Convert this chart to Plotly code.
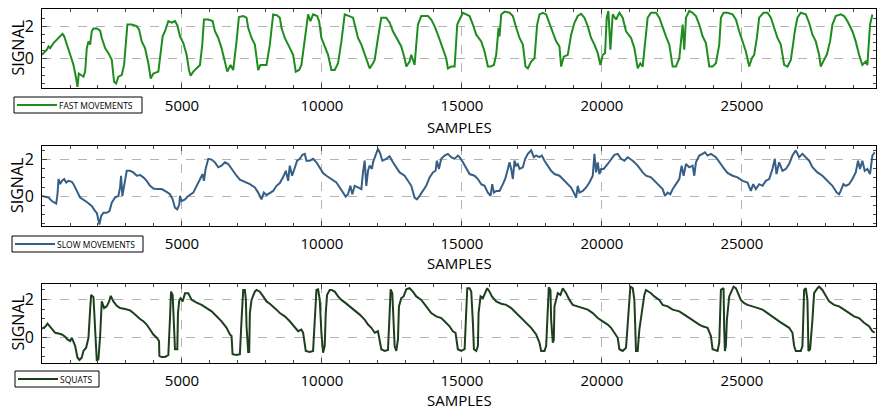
import plotly.graph_objects as go

# ---- FAST MOVEMENTS ----
fast_samples = [0, 174, 233, 293, 411, 530, 649, 732, 792, 887, 1006, 1125, 1220, 1267, 1315, 1386, 1481, 1541,
                1600, 1660, 1719, 1778, 1838, 1957, 2076, 2135, 2254, 2373, 2492, 2575, 2646, 2729, 2848, 2932,
                3003, 3050, 3205, 3383, 3467, 3562, 3680, 3799, 3883, 3978, 4156, 4215, 4310, 4394, 4512, 4631,
                4750, 4833, 4929, 5047, 5166, 5250, 5309, 5404, 5523, 5642, 5725, 5784, 5939, 6093, 6177, 6296,
                6414, 6533, 6617, 6735, 6830, 6949, 7033, 7187, 7306, 7365, 7484, 7603, 7722, 7805, 7900, 8019,
                8138, 8257, 8400, 8495, 8554, 8673, 8792, 8970, 9065, 9184, 9267, 9386, 9505, 9588, 9683, 9826,
                9897, 9980, 10099, 10218, 10337, 10456, 10575, 10694, 10813, 10991, 11110, 11169, 11288, 11407,
                11585, 11704, 11823, 11883, 12001, 12120, 12298, 12417, 12536, 12715, 12833, 12952, 13012, 13131,
                13190, 13309, 13428, 13547, 13784, 13903, 14022, 14141, 14319, 14438, 14498, 14616, 14738,
                14833, 14916, 15035, 15154, 15273, 15392, 15511, 15689, 15808, 15927, 16022, 16141, 16224, 16307,
                16343, 16403, 16522, 16700, 16819, 16938, 17057, 17176, 17271, 17354, 17473, 17592, 17687, 17770,
                17889, 18008, 18127, 18246, 18364, 18483, 18543, 18638, 18781, 18900, 19018, 19137, 19256, 19375,
                19494, 19613, 19732, 19851, 19946, 20029, 20112, 20172, 20231, 20303, 20386, 20505, 20624, 20742,
                20861, 21040, 21159, 21278, 21373, 21456, 21575, 21634, 21753, 21931, 22050, 22169, 22288, 22407,
                22526, 22645, 22764, 22883, 22942, 23002, 23120, 23239, 23358, 23477, 23596, 23715, 23834, 23953,
                24072, 24191, 24250, 24345, 24488, 24666, 24785, 24904, 25023, 25142, 25261, 25356, 25439, 25534,
                25617, 25772, 25915, 26034, 26152, 26271, 26390, 26509, 26628, 26747, 26842, 26890, 26985, 27104,
                27282, 27401, 27520, 27639, 27758, 27817, 27936, 28031, 28150, 28233, 28352, 28530, 28649, 28768,
                28947, 29066, 29185, 29303, 29422, 29482, 29577, 29661]
fast_signal = [0.25, 0.56, 0.76, 0.66, 0.97, 1.18, 1.38, 1.53, 1.38, 0.87, 0.35, -0.37, -1.20, -1.71, -0.89, -0.99,
               -1.09, -0.78, 0.66, 1.07, 0.87, 1.69, 1.86, 1.86, 1.73, 1.28, 0.66, 0.35, -0.06, -1.40, -1.51, -1.09,
               -0.99, -0.37, 1.07, 2.10, 2.10, 2.00, 1.79, 1.07, 0.66, -0.27, -1.20, -0.89, -0.78, 0.04, 1.38, 1.69,
               2.31, 2.21, 2.31, 2.06, 1.38, 0.97, 0.25, -0.68, -1.03, -0.78, -0.58, -0.37, 0.87, 2.41, 2.41, 2.31,
               1.69, 1.28, 0.66, -0.16, -0.78, -0.37, -0.68, 1.07, 2.56, 2.62, 2.52, 1.90, 1.28, 0.87, -0.68, -0.37,
               -0.37, -0.37, 0.87, 2.72, 2.66, 2.52, 1.90, 1.28, 0.87, 0.25, -0.78, -0.68, -0.37, 1.07, 2.72, 2.31,
               2.72, 2.62, 2.31, 1.28, 0.76, 0.25, -0.68, -0.68, -0.27, 1.07, 2.72, 2.62, 2.52, 2.10, 1.28, 0.87,
               0.04, -0.58, -0.27, -0.06, 1.28, 2.52, 2.52, 2.21, 1.69, 1.07, 0.76, 0.04, -0.47, -0.16, 0.25, -0.37,
               2.10, 2.62, 2.62, 2.41, 2.00, 1.48, 0.66, 0.04, -0.58, -0.47, -0.47,
               2.10, 2.41, 2.82, 2.72, 2.62, 2.10, 1.48, 1.07, 0.45, -0.47, -0.47, -0.37, 0.25, 1.90,
               1.38, 2.72, 2.89, 2.82, 2.62, 1.90, 1.28, 0.87, -0.47, -0.58, -0.16, 0.04, 2.10, 2.72,
               2.82, 2.72, 2.21, 1.69, 1.07, 0.76, -0.47, 0.14, 0.25, 1.48, 2.21, 2.62, 2.76, 2.52,
               2.00, 1.28, 0.87, 0.35, -0.37, 0.25, 0.35, 2.52, 2.93, 0.56, 2.72, 2.41, 2.82, 2.52,
               1.69, 1.28, 0.66, -0.58, -0.27, -0.47, 1.69, 2.52, 2.82, 2.82, 2.52, 1.90, 1.38, 0.87,
               -0.47, -0.47, 0.04, 2.10, 0.56, 2.52, 2.93, 2.82, 2.62, 2.10, 1.38, 0.97, -0.47, -0.47,
               -0.27, 0.87, 2.52, 2.82, 2.82, 2.72, 2.41, 1.69, 1.07, 0.45, -0.47, 0.04, 0.25, 1.28,
               2.52, 2.82, 2.82, 2.52, 1.90, 1.28, 0.87, -0.37, -0.47, -0.06, 1.07, 1.69, 2.52, 2.82,
               2.72, 2.21, 1.48, 1.07, 0.25, -0.47, -0.06, 0.25, 1.07, 2.10, 2.62, 2.72, 2.62, 2.31,
               1.69, 1.07, 0.25, -0.37, -0.16, -0.37, 2.10, 2.72]

# ---- SLOW MOVEMENTS ----
slow_samples = [0, 233, 352, 435, 507, 554, 590, 649, 709, 792, 863, 946, 1065, 1125, 1243, 1362, 1600, 1778, 1897,
                1957, 2052, 2111, 2195, 2313, 2409, 2492, 2610, 2729, 2789, 2824, 2872, 2908, 2967, 3027, 3145,
                3264, 3383, 3502, 3621, 3740, 3859, 3978, 4096, 4275, 4453, 4572, 4667, 4750, 4833, 4905, 4929,
                4988, 5107, 5226, 5404, 5523, 5642, 5737, 5784, 5844, 5939, 6058, 6177, 6296, 6414, 6533, 6652,
                6771, 6949, 7068, 7247, 7425, 7603, 7722, 7841, 7924, 8019, 8138, 8257, 8376, 8495, 8637, 8709,
                8792, 8851, 8934, 9030, 9113, 9208, 9303, 9386, 9446, 9565, 9683, 9802, 9921, 10040, 10159, 10337,
                10515, 10634, 10753, 10848, 10931, 11015, 11086, 11169, 11288, 11407, 11466, 11526, 11585, 11645,
                11704, 11787, 11823, 11918, 12001, 12084, 12156, 12298, 12417, 12536, 12655, 12774, 12952, 13071,
                13190, 13309, 13392, 13487, 13606, 13725, 13844, 13963, 14058, 14105, 14177, 14260, 14379, 14498,
                14616, 14735, 14854, 14916, 15035, 15154, 15273, 15451, 15570, 15689, 15808, 15927, 16022, 16082,
                16141, 16224, 16343, 16462, 16545, 16640, 16700, 16759, 16819, 16878, 16938, 16997, 17057, 17176,
                17259, 17354, 17473, 17568, 17651, 17770, 17853, 17948, 18067, 18186, 18305, 18483, 18602, 18781,
                18900, 18995, 19078, 19137, 19197, 19316, 19435, 19554, 19673, 19732, 19791, 19851, 19910, 19970,
                20065, 20207, 20326, 20445, 20564, 20683, 20802, 20921, 21099, 21278, 21456, 21575, 21753, 21872,
                22050, 22169, 22252, 22348, 22443, 22526, 22645, 22764, 22847, 22918, 23002, 23120, 23239, 23299,
                23358, 23477, 23596, 23679, 23774, 23893, 24072, 24191, 24369, 24488, 24666, 24845, 25023, 25201,
                25320, 25404, 25499, 25617, 25736, 25855, 25974, 26093, 26176, 26236, 26331, 26450, 26569, 26687,
                26806, 26925, 27044, 27163, 27282, 27401, 27520, 27698, 27876, 28055, 28233, 28388, 28471, 28530,
                28626, 28709, 28828, 28947, 29066, 29149, 29220, 29303, 29387, 29482, 29577, 29661, 29744]
slow_signal = [0.02, -0.07, -0.26, -0.35, -0.40, 0.11, 0.94, 0.66, 0.84, 0.94, 0.75, 0.84, 0.79, 0.66, 0.29, -0.07,
               -0.31, -0.53, -0.81, -0.90, -1.54, -1.08, -0.90, -0.90, -0.81, -0.35, -0.07, 0.02, 0.48, 1.12, 0.02,
               0.39, 0.94, 1.39, 1.39, 1.30, 1.12, 1.16, 1.03, 0.84, 0.57, 0.42, 0.39, 0.39, 0.24, 0.11, -0.17,
               -0.62, -0.72, -0.44, 0.02, -0.26, -0.17, 0.02, 0.20, 0.57, 0.94, 1.21, 0.84, 1.49, 2.04, 2.00, 1.85,
               1.58, 1.67, 1.85, 1.76, 1.49, 1.12, 0.90, 0.79, 0.66, 0.48, 0.20, -0.17, 0.20, 0.06, 0.20, 0.29,
               0.57, 0.72, 1.12, 1.39, 0.84, 1.67, 1.12, 1.58, 1.94, 2.04, 2.26, 2.31, 1.94, 1.94, 2.04, 1.85,
               1.58, 1.27, 1.12, 0.94, 0.75, 0.48, 0.20, -0.02, 0.11, 0.57, 0.11, 0.57, 0.48, 0.39, 1.30, 1.94,
               0.57, 1.39, 1.67, 1.49, 1.85, 2.22, 2.59, 2.31, 1.94, 2.04, 2.18, 1.85, 1.58, 1.30, 1.12, 0.84,
               0.57, -0.07, -0.17, 0.02, 0.29, 0.57, 1.03, 1.30, 1.39, 1.94, 1.49, 2.04, 2.22, 2.31, 2.13, 2.04,
               2.22, 2.13, 1.85, 1.49, 1.21, 1.12, 0.94, 0.66, 0.57, 0.20, 0.02, 0.66, 0.20, 0.29, 0.29, 0.66,
               0.94, 1.49, 1.85, 1.49, 0.94, 1.94, 1.67, 1.76, 1.49, 1.58, 2.04, 2.31, 2.50, 2.13, 2.22, 2.13,
               2.22, 1.94, 1.67, 1.39, 1.21, 1.12, 0.94, 0.66, 0.48, 0.20, -0.07, 0.57, 0.20, 0.29, 0.48, 0.75,
               1.12, 2.31, 1.30, 1.85, 1.21, 1.49, 1.49, 1.76, 2.04, 2.26, 2.31, 2.04, 1.94, 2.13, 1.94, 1.67,
               1.30, 1.12, 1.03, 0.84, 0.57, 0.39, 0.02, 0.20, 0.11, 0.39, 0.66, 0.94, 1.67, 1.12, 1.76, 1.58,
               1.67, 1.12, 1.85, 2.22, 2.31, 2.40, 2.22, 2.31, 2.13, 1.85, 1.49, 1.27, 1.12, 1.03, 0.84, 0.75,
               0.29, 0.66, 0.39, 0.66, 0.57, 0.84, 0.94, 1.49, 2.04, 1.21, 1.85, 1.39, 1.49, 1.76, 2.22, 2.50,
               2.13, 2.31, 2.13, 1.94, 1.58, 1.30, 1.12, 0.84, 0.57, 0.20, 0.11, 0.29, 0.66, 0.57, 0.66, 0.94,
               1.30, 1.94, 1.49, 1.94, 1.39, 1.49, 1.21, 2.22, 2.40]

# ---- SQUATS ----
squat_samples = [0, 114, 198, 269, 352, 471, 590, 709, 828, 911, 1006, 1065, 1125, 1184, 1267, 1339, 1422, 1481,
                 1576, 1660, 1719, 1755, 1838, 1897, 1957, 2016, 2076, 2135, 2218, 2313, 2397, 2456, 2551, 2670,
                 2789, 2967, 3145, 3264, 3383, 3502, 3621, 3740, 3859, 3978, 4096, 4180, 4192, 4275, 4394, 4512,
                 4572, 4608, 4667, 4691, 4750, 4833, 4857, 4905, 4952, 5024, 5107, 5226, 5345, 5523, 5701, 5880,
                 6058, 6236, 6414, 6593, 6712, 6771, 6807, 6949, 7068, 7128, 7187, 7247, 7282, 7306, 7365, 7401,
                 7425, 7484, 7603, 7663, 7781, 7900, 8019, 8138, 8257, 8376, 8495, 8673, 8851, 9029, 9148, 9267,
                 9327, 9422, 9564, 9683, 9743, 9802, 9862, 9921, 9980, 10040, 10099, 10135, 10183, 10278, 10337,
                 10456, 10575, 10694, 10848, 10991, 11169, 11348, 11526, 11645, 11764, 11883, 12001, 12061, 12120,
                 12239, 12358, 12417, 12453, 12513, 12536, 12596, 12655, 12715, 12750, 12833, 12916, 13012, 13131,
                 13249, 13368, 13547, 13725, 13903, 14082, 14260, 14379, 14557, 14676, 14771, 14854, 14976, 15095,
                 15154, 15190, 15273, 15333, 15392, 15428, 15511, 15570, 15594, 15665, 15749, 15832, 15903, 15986,
                 16070, 16224, 16403, 16581, 16759, 16938, 17116, 17294, 17473, 17651, 17770, 17829, 17948, 18008,
                 18067, 18103, 18162, 18186, 18246, 18281, 18305, 18424, 18519, 18602, 18721, 18840, 18959, 19137,
                 19316, 19494, 19672, 19851, 20029, 20207, 20326, 20445, 20564, 20624, 20742, 20861, 20921, 21016,
                 21099, 21159, 21218, 21278, 21337, 21456, 21515, 21575, 21753, 21872, 22050, 22169, 22348, 22526,
                 22764, 22942, 23120, 23299, 23477, 23596, 23774, 23893, 23953, 24131, 24191, 24250, 24345, 24369,
                 24393, 24428, 24464, 24547, 24630, 24702, 24785, 24868, 24963, 25082, 25201, 25380, 25558, 25736,
                 25915, 26152, 26331, 26509, 26687, 26806, 26866, 26925, 27104, 27163, 27223, 27282, 27341, 27377,
                 27436, 27520, 27579, 27698, 27758, 27876, 27995, 28114, 28293, 28471, 28649, 28828, 29006, 29185,
                 29363, 29541, 29661, 29744]
squat_signal = [0.47, 0.57, 0.74, 0.60, 0.43, 0.26, 0.22, 0.17, 0.05, -0.09, -0.17, 0.00, -0.22, -0.43, -1.03,
                -1.16, -1.03, -0.69, -0.52, 0.00, 1.47, 2.24, 2.12, 0.43, -1.21, -1.12, 0.09, 1.90, 1.55, 1.64,
                1.90, 2.19, 1.90, 1.67, 1.55, 1.50, 1.43, 1.29, 1.12, 0.98, 0.86, 0.69, 0.43, 0.17, 0.00, -0.17,
                -0.95, -1.00, -1.00, -0.91, 1.03, 2.41, 2.24, 1.47, -0.60, -0.60, 1.29, 1.98, 2.07, 1.90, 2.33,
                2.33, 1.98, 1.84, 1.72, 1.55, 1.38, 1.12, 0.86, 0.52, 0.17, 0.09, -0.86, -0.90, -0.86, 0.95, 2.50,
                2.50, 1.98, 0.60, -0.74, -0.74, 1.29, 1.98, 2.41, 2.50, 2.41, 2.16, 1.90, 1.78, 1.64, 1.47, 1.29,
                1.12, 0.86, 0.52, 0.34, 0.43, 0.26, -0.69, -0.74, -0.69, 0.95, 2.50, 2.53, 1.98, 0.26, -0.78,
                -0.43, 1.29, 2.24, 2.50, 2.50, 2.41, 2.16, 1.98, 1.81, 1.64, 1.47, 1.21, 0.95, 0.69, 0.52, 0.26,
                0.34, -0.09, -0.60, -0.69, -0.64, 1.29, 2.53, 2.33, 1.47, -0.43, -0.69, -0.09, 1.64, 2.07, 2.16,
                2.53, 2.59, 2.41, 2.16, 1.98, 1.64, 1.29, 1.12, 1.03, 0.86, 0.60, 0.34, 0.26, -0.60, -0.69, -0.60,
                1.12, 2.59, 2.59, 2.41, 0.78, -0.60, -0.69, -0.43, 1.29, 2.16, 2.07, 2.41, 2.59, 2.41, 2.16, 1.90,
                1.78, 1.72, 1.55, 1.29, 1.03, 0.78, 0.52, 0.17, -0.26, -0.69, -0.69, -0.43, 1.98, 2.64, 2.50, 0.95,
                -0.26, -0.09, 1.64, 2.33, 2.24, 2.59, 2.33, 1.98, 1.72, 1.64, 1.55, 1.47, 1.29, 1.03, 0.86, 0.69,
                0.52, 0.26, 0.00, -0.60, -0.69, -0.52, 0.95, 2.67, 2.59, 1.98, -0.69, -0.69, 0.43, 1.81, 2.24, 2.50,
                2.33, 2.16, 1.98, 1.72, 1.64, 1.47, 1.38, 1.21, 1.03, 0.86, 0.69, 0.60, 0.52, 0.09, -0.60, -0.69,
                -0.26, 2.50, 2.59, 0.43, -0.69, -0.43, 0.95, 2.16, 2.41, 2.67, 2.59, 2.33, 1.98, 1.81, 1.72, 1.64,
                1.55, 1.47, 1.29, 1.03, 0.86, 0.69, 0.52, 0.26, -0.43, -0.69, -0.69, -0.43, 2.50, 2.59, 1.98, -0.69,
                -0.60, 0.95, 2.33, 2.59, 2.67, 2.50, 2.16, 1.90, 1.72, 1.64, 1.47, 1.29, 1.12, 1.03, 0.78, 0.60,
                0.34, 0.26]

x_ticks = [5000, 10000, 15000, 20000, 25000]
x_tick_labels = ["5000", "10000", "15000", "20000", "25000"]

panels = [
    dict(name="FAST MOVEMENTS", x=fast_samples, y=fast_signal, color="#1e8c1e", yrange=[-1.78, 3.05]),
    dict(name="SLOW MOVEMENTS", x=slow_samples, y=slow_signal, color="#365f85", yrange=[-1.62, 2.74]),
    dict(name="SQUATS", x=squat_samples, y=squat_signal, color="#1e3f1e", yrange=[-1.32, 2.81]),
]

W, H = 877, 410
plot_left, plot_right = 42, 876
rows_px = [(9, 88), (146, 226), (284, 363)]
# legend box geometry in pixels: (left, right, top offset below the axes)
legend_boxes = [(14, 142, 9), (12, 143, 10), (15, 99, 8)]
legend_h = 16
# vertical offset of the x-axis title below each panel
title_offsets = [39, 37, 37]
font = "Open Sans, DejaVu Sans, sans-serif"

fig = go.Figure()
shapes, annotations = [], []
layout = dict(
    width=W, height=H, margin=dict(l=0, r=0, t=0, b=0),
    paper_bgcolor="white", plot_bgcolor="white",
    font=dict(family=font, color="black"),
    showlegend=False,
)


def px_x(v):
    return v / W


def px_y(v):
    return 1 - v / H


for i, p in enumerate(panels, start=1):
    top, bot = rows_px[i - 1]
    sfx = "" if i == 1 else str(i)
    fig.add_trace(go.Scatter(
        x=p["x"], y=p["y"], mode="lines", name=p["name"],
        line=dict(color=p["color"], width=2),
        xaxis=f"x{sfx}", yaxis=f"y{sfx}",
    ))
    common = dict(showline=True, linecolor="black", linewidth=1, mirror="allticks",
                  ticks="inside", zeroline=False, showgrid=True,
                  gridcolor="#b4b4b4", griddash="dash", gridwidth=1)
    layout[f"xaxis{sfx}"] = dict(
        domain=[px_x(plot_left), px_x(plot_right)], anchor=f"y{sfx}",
        range=[0, 29790], tickvals=x_ticks, ticktext=x_tick_labels, ticklen=5,
        tickfont=dict(size=15), ticklabelstandoff=4,
        minor=dict(dtick=1000, ticks="inside", ticklen=3, showgrid=False, tick0=0),
        **common)
    layout[f"yaxis{sfx}"] = dict(
        domain=[px_y(bot), px_y(top)], anchor=f"x{sfx}",
        range=p["yrange"], tickvals=[-2, 0, 2], ticklen=5,
        tickfont=dict(size=16), ticklabelstandoff=4,
        minor=dict(dtick=0.5, ticks="inside", ticklen=3, showgrid=False, tick0=0),
        **common)

    # legend box with a line sample and the series name
    lx0, lx1, off = legend_boxes[i - 1]
    ly0 = bot + off
    ly1 = ly0 + legend_h
    ymid = (ly0 + ly1) / 2
    shapes.append(dict(type="rect", xref="paper", yref="paper",
                       x0=px_x(lx0), x1=px_x(lx1), y0=px_y(ly1), y1=px_y(ly0),
                       line=dict(color="black", width=1), fillcolor="white"))
    shapes.append(dict(type="line", xref="paper", yref="paper",
                       x0=px_x(lx0 + 3), x1=px_x(lx0 + 43), y0=px_y(ymid), y1=px_y(ymid),
                       line=dict(color=p["color"], width=2)))
    annotations.append(dict(text=p["name"], xref="paper", yref="paper",
                            x=px_x(lx0 + 44), y=px_y(ymid), xanchor="left", yanchor="middle",
                            showarrow=False, font=dict(size=8.5), borderpad=0))

    annotations.append(dict(
        text="SAMPLES", xref=f"x{sfx} domain", yref="paper",
        x=0.5, y=px_y(bot + title_offsets[i - 1]), xanchor="center", yanchor="middle",
        showarrow=False, font=dict(size=15), borderpad=0))
    annotations.append(dict(
        text="SIGNAL", xref="paper", yref=f"y{sfx} domain",
        x=px_x(17), y=0.5, xanchor="center", yanchor="middle", textangle=-90,
        showarrow=False, font=dict(size=16), borderpad=0))

layout["shapes"] = shapes
layout["annotations"] = annotations
fig.update_layout(**layout)
fig.write_html("out.html")
